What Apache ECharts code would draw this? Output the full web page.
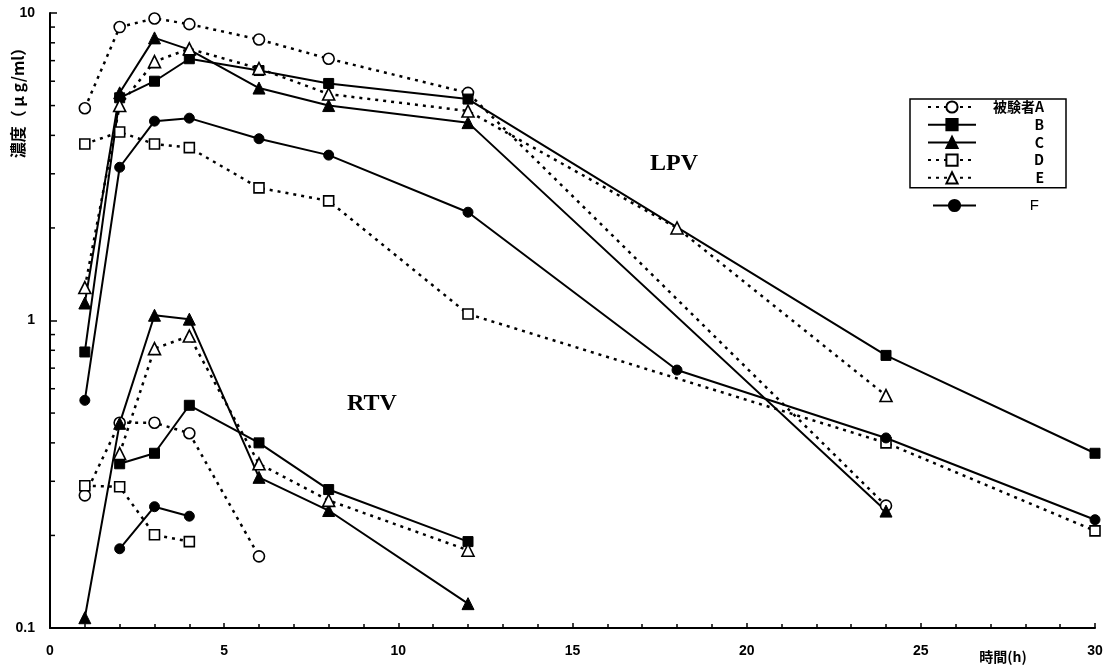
<!DOCTYPE html>
<html>
<head>
<meta charset="utf-8">
<script src="https://cdn.jsdelivr.net/npm/echarts@6/dist/echarts.min.js"></script>
<style>
html,body{margin:0;padding:0;background:#fff;}
#c{width:1110px;height:669px;}
</style>
</head>
<body>
<div id="c"></div>
<script>
// ---- data ----
const subjects = ['被験者A', 'B', 'C', 'D', 'E', 'F'];
const xTicks = [0, 5, 10, 15, 20, 25, 30];
const yTickLabels = ['0.1', '1', '10'];
const yMinorTicks = [0.2,0.3,0.4,0.5,0.6,0.7,0.8,0.9,2,3,4,5,6,7,8,9];

// LPV
const tA_LPV = [1,2,3,4,6,8,12,24];
const vA_LPV = [4.9,9.0,9.6,9.2,8.2,7.1,5.5,0.25];
const tB_LPV = [1,2,3,4,6,8,12,24,30];
const vB_LPV = [0.79,5.3,6.0,7.1,6.5,5.9,5.25,0.77,0.37];
const tC_LPV = [1,2,3,4,6,8,12,24];
const vC_LPV = [1.14,5.5,8.3,7.6,5.7,5.0,4.4,0.24];
const tD_LPV = [1,2,3,4,6,8,12,24,30];
const vD_LPV = [3.75,4.1,3.75,3.65,2.7,2.45,1.05,0.40,0.207];
const tE_LPV = [1,2,3,4,6,8,12,18,24];
const vE_LPV = [1.28,5.0,6.95,7.65,6.6,5.45,4.8,2.0,0.57];
const tF_LPV = [1,2,3,4,6,8,12,18,24,30];
const vF_LPV = [0.55,3.15,4.45,4.55,3.9,3.45,2.25,0.69,0.415,0.225];

// RTV
const tA_RTV = [1,2,3,4,6];
const vA_RTV = [0.27,0.465,0.465,0.43,0.171];
const tB_RTV = [2,3,4,6,8,12];
const vB_RTV = [0.342,0.37,0.53,0.40,0.282,0.191];
const tC_RTV = [1,2,3,4,6,8,12];
const vC_RTV = [0.108,0.463,1.04,1.01,0.309,0.241,0.12];
const tD_RTV = [1,2,3,4];
const vD_RTV = [0.29,0.288,0.201,0.191];
const tE_RTV = [2,3,4,6,8,12];
const vE_RTV = [0.369,0.81,0.89,0.342,0.26,0.179];
const tF_RTV = [2,3,4];
const vF_RTV = [0.181,0.248,0.231];

// ---- styles ----
const dotted = {color:'#000', width:2.5, type:[3,5]};
const solid = {color:'#000', width:2, type:'solid'};
const openItem = {color:'#fff', borderColor:'#000', borderWidth:1.6};
const fillItem = {color:'#000', borderColor:'#000', borderWidth:1};
const styles = {
  '被験者A': {symbol:'circle', size:11, line:dotted, item:openItem},
  'B': {symbol:'rect', size:10, line:solid, item:fillItem},
  'C': {symbol:'triangle', size:12, line:solid, item:fillItem},
  'D': {symbol:'rect', size:10, line:dotted, item:openItem},
  'E': {symbol:'triangle', size:12, line:dotted, item:openItem},
  'F': {symbol:'circle', size:10, line:solid, item:fillItem}
};

function zip(t, v){ return t.map((x,i)=>[x, v[i]]); }
function mk(name, t, v){
  const s = styles[name];
  return {
    type:'line', name:name, data:zip(t,v),
    symbol:s.symbol, symbolSize:s.size, showSymbol:true,
    lineStyle:s.line, itemStyle:s.item,
    emphasis:{disabled:true}, silent:true, z:3
  };
}

const series = [
  mk('被験者A', tA_LPV, vA_LPV), mk('被験者A', tA_RTV, vA_RTV),
  mk('B', tB_LPV, vB_LPV), mk('B', tB_RTV, vB_RTV),
  mk('C', tC_LPV, vC_LPV), mk('C', tC_RTV, vC_RTV),
  mk('D', tD_LPV, vD_LPV), mk('D', tD_RTV, vD_RTV),
  mk('E', tE_LPV, vE_LPV), mk('E', tE_RTV, vE_RTV),
  mk('F', tF_LPV, vF_LPV), mk('F', tF_RTV, vF_RTV),
  {
    type:'custom', name:'yminor', silent:true, clip:false, z:5,
    data: yMinorTicks.map(v=>[0,v]),
    encode:{x:0,y:1},
    renderItem:function(params, api){
      const p = api.coord([api.value(0), api.value(1)]);
      return {type:'line', shape:{x1:p[0], y1:p[1], x2:p[0]+5, y2:p[1]},
              style:{stroke:'#000', lineWidth:1.5}};
    }
  }
];

const legendText = {
  fontFamily:'Liberation Sans, Arial, sans-serif', fontWeight:'bold', fontSize:14, color:'#000',
  rich:{ t:{width:63, align:'right', fontWeight:'bold', fontSize:14,
           fontFamily:'Noto Sans CJK JP, Liberation Sans, sans-serif', lineHeight:14} }
};

const chart = echarts.init(document.getElementById('c'), null, {renderer:'canvas'});
chart.setOption({
  animation:false,
  backgroundColor:'#fff',
  grid:{left:50, right:15, top:13, bottom:41, containLabel:false},
  xAxis:{
    type:'value', min:0, max:30, interval:5,
    axisLine:{show:true, onZero:false, lineStyle:{color:'#000', width:2}},
    axisTick:{show:true, inside:true, length:5, lineStyle:{color:'#000', width:1.5}},
    minorTick:{show:true, splitNumber:5, length:4, lineStyle:{color:'#000', width:1.5}},
    splitLine:{show:false},
    axisLabel:{
      margin:16, color:'#000', fontWeight:'bold', fontSize:14,
      fontFamily:'Liberation Sans, Arial, sans-serif',
      formatter:function(v){ return xTicks.indexOf(v)>=0 ? String(v) : ''; }
    }
  },
  yAxis:{
    type:'log', logBase:10, min:0.1, max:10,
    axisLine:{show:true, onZero:false, lineStyle:{color:'#000', width:2}},
    axisTick:{show:true, inside:true, length:7, lineStyle:{color:'#000', width:1.5}},
    minorTick:{show:false},
    splitLine:{show:false},
    axisLabel:{
      margin:15, color:'#000', fontWeight:'bold', fontSize:14,
      fontFamily:'Liberation Sans, Arial, sans-serif',
      formatter:function(v){
        const s = (Math.round(v*10)/10).toString();
        return yTickLabels.indexOf(s)>=0 ? s : '';
      }
    }
  },
  legend:[
    {
      data:subjects.slice(0,5), orient:'vertical', left:910, top:99,
      padding:[1,22,3,17], itemWidth:48, itemHeight:14, itemGap:3.7,
      borderColor:'#000', borderWidth:1.5, backgroundColor:'#fff',
      selectedMode:false,
      formatter:function(n){ return '{t|'+n+'}'; },
      textStyle:legendText
    },
    {
      data:['F'], orient:'vertical', left:915, top:198,
      padding:[0,0,0,17], itemWidth:43, itemHeight:14,
      selectedMode:false,
      formatter:function(n){ return '{t|'+n+'}'; },
      textStyle:{
        fontFamily:'Liberation Sans, Arial, sans-serif', fontSize:14, color:'#000',
        rich:{t:{width:58, align:'right', fontSize:15, fontFamily:'Liberation Sans, Arial, sans-serif', lineHeight:14}}
      }
    }
  ],
  graphic:[
    {type:'text', style:{text:'LPV', x:674, y:164, align:'center', verticalAlign:'middle',
      font:'bold 24px "Liberation Serif", "Times New Roman", serif', fill:'#000'}},
    {type:'text', style:{text:'RTV', x:372, y:404, align:'center', verticalAlign:'middle',
      font:'bold 24px "Liberation Serif", "Times New Roman", serif', fill:'#000'}},
    {type:'text', style:{text:'時間(h)', x:1003, y:657, align:'center', verticalAlign:'middle',
      font:'bold 14px "Noto Sans CJK JP", sans-serif', fill:'#000'}},
    {type:'text', x:18, y:99, rotation:Math.PI/2,
      style:{text:'濃度（ μ g/ml）', x:0, y:0, align:'center', verticalAlign:'middle',
      font:'bold 16px "Noto Sans CJK JP", sans-serif', fill:'#000'}}
  ],
  series:series
});
</script>
</body>
</html>
